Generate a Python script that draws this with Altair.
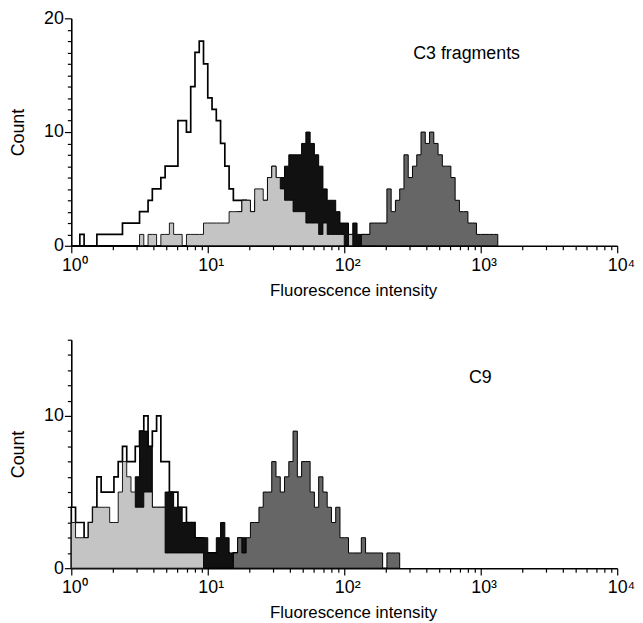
import altair as alt
import pandas as pd

CPD = 32  # histogram channels per decade of fluorescence

# ---- top panel: C3 fragments (counts per channel, first channel index) ----
top_control_start = 0
top_control = [0, 0, 1, 0, 0, 0, 1, 1, 1, 1, 1, 1, 2, 2, 2, 2, 3, 3, 4, 5, 5, 6, 7, 7, 7,
               11, 11, 10, 14, 17, 18, 16, 13, 12, 11, 9, 7, 5, 4, 4, 4, 3, 2, 2, 2,
               1, 1, 1, 1, 1, 1, 0, 1, 0, 1]
top_light_start = 16
top_light = [1, 0, 1, 1, 0, 1, 1, 2, 1, 1, 0, 1, 1, 1,
             1, 2, 2, 2, 2, 2, 2,
             3, 3, 3, 4, 4, 3, 5, 5, 4, 6, 7, 6, 5, 4, 4, 3, 3, 3, 2, 2, 2, 1, 2, 1, 1, 1, 1, 0, 1]
top_black_start = 38
top_black = [2, 3, 4, 4, 3, 4, 3, 4, 6, 7, 5, 6, 7, 8, 8, 8, 9, 10, 9, 8,
             7, 5, 4, 4, 3, 2, 2, 1, 2, 1, 1, 1, 1, 0, 1]
top_dark_start = 68
top_dark = [1, 1, 2, 2, 2, 2, 5, 3, 4, 5, 8, 6, 7, 8, 10, 9, 10, 9, 8, 7,
            7, 6, 4, 3, 3, 2, 2, 1, 1, 1, 1, 1]

# ---- bottom panel: C9 ----
bot_control_start = 0
bot_control = [4, 3, 3, 2, 3, 4, 6, 5, 5, 5, 6, 7, 8, 7, 7, 8, 9, 10, 8, 9, 10, 7, 7, 5, 5,
               4, 4, 3, 3, 2, 2, 1, 1, 1, 1, 0, 1, 0, 1]
bot_light_start = 0
bot_light = [3, 2, 2, 2, 3, 4, 4, 4, 4, 3, 3, 5, 7, 6, 5, 4, 4, 5, 5, 4,
             4, 4, 1, 1, 1, 1, 1, 1, 1, 1, 1]
bot_black_start = 15
bot_black = [6, 9, 9, 8, 4, 4, 4, 5, 5, 4, 4, 3, 3, 3, 2, 2, 2, 1, 1, 2,
             3, 2, 1, 1, 2, 2, 1, 1]
bot_dark_start = 38
bot_dark = [1, 2, 1, 2, 3, 3, 4, 5, 5, 7, 6, 5, 6, 7, 9, 6, 7, 7, 5, 4,
            6, 5, 4, 3, 4, 2, 2, 1, 1, 1, 2, 1, 1, 1, 1, 0, 1, 1, 1]

# panel labels
panel_labels = ["C3 fragments", "C9"]
panel_label_x = [320, 820]
panel_label_y = [16.9, 12.5]

# axis ticks
decades = [1, 10, 100, 1000, 10000]
decade_labels = ["10⁰", "10¹", "10²", "10³", "10⁴"]
x_tick_values = [m * d for d in decades[:-1] for m in range(1, 10)] + [decades[-1]]

FONT = "Liberation Sans"
FILL = {"control": "white", "black": "#111111", "light": "#c4c4c4", "dark": "#666666"}
STROKE_W = {"control": 1.7, "black": 1.0, "light": 0.9, "dark": 1.0}
ORDER = ["control", "black", "light", "dark"]


def steps(start, counts, name):
    rows = []
    for j, c in enumerate(counts):
        rows.append({"s": name, "x": 10 ** ((start + j) / CPD), "y": c})
    rows.append({"s": name, "x": 10 ** ((start + len(counts)) / CPD), "y": 0})
    return rows


label_expr = " : ".join(
    f"datum.value == {d} ? '{l}'" for d, l in zip(decades, decade_labels)) + " : ''"
decade_test = "indexof([" + ",".join(str(d) for d in decades) + "], datum.value) >= 0"


def panel(series, ymax, label, lx, ly, h):
    rows = []
    for name, (start, counts) in series.items():
        rows += steps(start, counts, name)
    df = pd.DataFrame(rows)

    xscale = alt.Scale(type="log", domain=[1, 10000], nice=False)
    yscale = alt.Scale(domain=[0, ymax], nice=False, zero=True)
    xaxis = alt.Axis(
        values=x_tick_values, labelExpr=label_expr, grid=False,
        tickSize={"condition": {"test": decade_test, "value": 7}, "value": 4},
        tickColor="black", tickWidth=1.2, domainColor="black", domainWidth=1.6,
        labelFont=FONT, labelFontSize=18, labelColor="black", labelAlign="left",
        labelOffset=-10, labelPadding=4, labelFlush=False, labelOverlap=False,
        title="Fluorescence intensity", titleFont=FONT, titleFontSize=17,
        titleFontWeight="normal", titleColor="black", titleX=285, titleY=37,
        titleBaseline="top", titleAlign="center")
    yaxis = alt.Axis(
        values=list(range(0, ymax + 1)),
        labelExpr="datum.value % 10 === 0 ? datum.label : ''", grid=False,
        tickSize={"condition": {"test": "datum.value % 10 === 0", "value": 7}, "value": 4},
        tickColor="black", tickWidth=1.2, domainColor="black", domainWidth=1.6,
        labelFont=FONT, labelFontSize=18, labelColor="black", labelPadding=1,
        labelOverlap=False,
        title="Count", titleFont=FONT, titleFontSize=18, titleFontWeight="normal",
        titleColor="black", titleX=-53, titleBaseline="middle")

    base = alt.Chart(df).encode(
        x=alt.X("x:Q", scale=xscale, axis=xaxis),
        y=alt.Y("y:Q", scale=yscale, axis=yaxis, stack=None))
    layers = []
    for name in ORDER:
        if name not in series:
            continue
        layers.append(
            base.transform_filter(alt.datum.s == name).mark_area(
                interpolate="step-after", fill=FILL[name], stroke="black",
                strokeWidth=STROKE_W[name], strokeJoin="miter"))
    text = alt.Chart(pd.DataFrame({"x": [lx], "y": [ly], "t": [label]})).mark_text(
        align="left", baseline="middle", font=FONT, fontSize=18, color="black").encode(
        x=alt.X("x:Q", scale=xscale, axis=xaxis),
        y=alt.Y("y:Q", scale=yscale, axis=yaxis),
        text="t:N")
    return alt.layer(*layers, text).properties(width=552, height=h)


top = panel({"control": (top_control_start, top_control),
             "black": (top_black_start, top_black),
             "light": (top_light_start, top_light),
             "dark": (top_dark_start, top_dark)},
            20, panel_labels[0], panel_label_x[0], panel_label_y[0], 230)
bottom = panel({"control": (bot_control_start, bot_control),
                "black": (bot_black_start, bot_black),
                "light": (bot_light_start, bot_light),
                "dark": (bot_dark_start, bot_dark)},
               15, panel_labels[1], panel_label_x[1], panel_label_y[1], 231)

chart = alt.vconcat(top, bottom, spacing=33).properties(
    padding={"left": 2, "top": -2, "right": 0, "bottom": 0},
    background="white",
).configure_view(stroke=None)

chart.save("out.html", embed_options={"renderer": "svg", "actions": False})
